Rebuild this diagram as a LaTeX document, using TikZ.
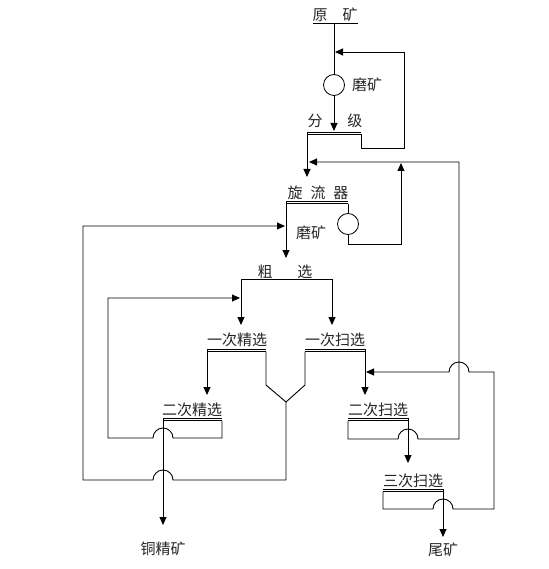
\documentclass[tikz,border=0pt]{standalone}
\usepackage{fontspec}
\setmainfont{Noto Sans CJK SC}
\usetikzlibrary{arrows.meta}
\begin{document}
\begin{tikzpicture}[x=1pt,y=-1pt,
  line/.style={draw=black,line width=0.9pt},
  arr/.style={line,-{Triangle[length=8pt,width=7pt]}},
  lbl/.style={font=\fontsize{15pt}{17pt}\selectfont,text=black!85,inner sep=0pt},
  mill/.style={circle,draw=black,line width=0.8pt,minimum size=21pt,inner sep=0pt}]
\useasboundingbox[fill=white] (0,0) rectangle (548,569);

% labels
\node[lbl] (yk) at (335,15) {原\hspace{15pt}矿};
\node[lbl] (mk1) at (367,85) {磨矿};
\node[lbl] (fj) at (335,121) {分\hspace{25pt}级};
\node[lbl] (xlq) at (318,193) {旋\hspace{8pt}流\hspace{8pt}器};
\node[lbl] (mk2) at (311,233) {磨矿};
\node[lbl] (cx) at (285,272) {粗\hspace{25pt}选};
\node[lbl] (jx1) at (237,340) {一次精选};
\node[lbl] (sx1) at (335,340) {一次扫选};
\node[lbl] (jx2) at (192,410) {二次精选};
\node[lbl] (sx2) at (378,410) {二次扫选};
\node[lbl] (sx3) at (413,481) {三次扫选};
\node[lbl] (tjk) at (163,549) {铜精矿};
\node[lbl] (wk) at (443,550) {尾矿};

% mills
\node[mill] (m1) at (334,85) {};
\node[mill] (m2) at (348,224) {};

% raw ore line
\draw[line] (313,23) -- (358,23);
\coordinate (top) at (334,23);
\draw[line] (top) -- (m1.north);
\draw[arr] (m1.south) -- (334,131);
\draw[arr] (361,134.5) -- (361,148) -- (404,148) -- (404,52) -- (335,52);

% classification
\draw[line] (307,132) -- (361,132);
\draw[line] (307,134.5) -- (361,134.5);
\draw[arr] (307,132) -- (307,177);

% cyclone
\draw[line] (286,201) -- (348,201);
\draw[line] (286,203.5) -- (348,203.5);
\draw[arr] (286,201) -- (286,258);
\draw[line] (348,203.5) -- (m2.north);
\draw[arr] (m2.south) -- (348,244) -- (401,244) -- (401,163);

% return from second scavenging to classifier
\draw[arr] (348,420.5) -- (348,439) -- (398,439)
  arc[start angle=180,end angle=0,radius=10pt] -- (459,439) -- (459,162) -- (309,162);

% rougher
\draw[line] (241,279) -- (332,279);
\draw[arr] (241,279) -- (241,325);
\draw[arr] (332,279) -- (332,325);

% first cleaner / first scavenger with Y
\draw[line] (207,349) -- (266,349);
\draw[line] (207,351.5) -- (266,351.5);
\draw[line] (305,349) -- (365,349);
\draw[line] (305,351.5) -- (365,351.5);
\draw[arr] (207,349) -- (207,395);
\draw[arr] (365,349) -- (365,395);
\draw[line] (266,351.5) -- (266,385) -- (286,402) -- (305,385) -- (305,351.5);
\draw[arr] (286,402) -- (286,480) -- (173,480)
  arc[start angle=0,end angle=180,radius=10pt] -- (83,480) -- (83,226) -- (285,226);

% second cleaner
\draw[line] (163,418) -- (222,418);
\draw[line] (163,420.5) -- (222,420.5);
\draw[arr] (222,420.5) -- (222,438) -- (173,438)
  arc[start angle=0,end angle=180,radius=10pt] -- (108,438) -- (108,298) -- (240,298);
\draw[arr] (163,418) -- (163,525);

% second scavenger
\draw[line] (348,418) -- (408,418);
\draw[line] (348,420.5) -- (408,420.5);
\draw[arr] (408,418) -- (408,463);

% third scavenger
\draw[line] (383,489) -- (443,489);
\draw[line] (383,491.5) -- (443,491.5);
\draw[arr] (443,489) -- (443,537);
\draw[arr] (383,491.5) -- (383,509) -- (433,509)
  arc[start angle=180,end angle=0,radius=10pt] -- (494,509) -- (494,372) -- (469,372)
  arc[start angle=0,end angle=180,radius=10pt] -- (366,372);
\end{tikzpicture}
\end{document}
